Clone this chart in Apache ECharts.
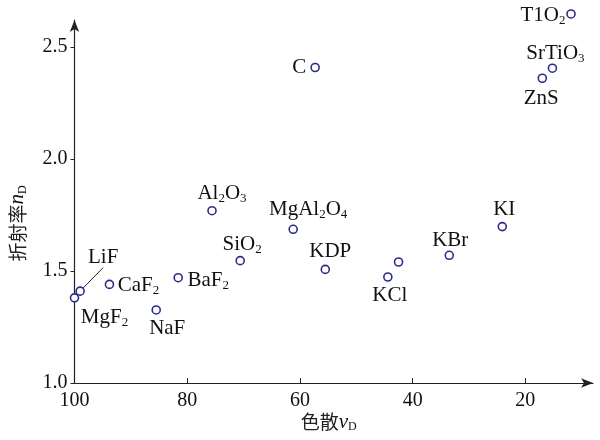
<!DOCTYPE html>
<html>
<head>
<meta charset="utf-8">
<script src="https://cdn.jsdelivr.net/npm/echarts@6/dist/echarts.min.js"></script>
<style>html,body{margin:0;padding:0;background:#fff}#c{width:600px;height:440px}</style>
</head>
<body>
<div id="c"></div>
<script>
// ---- data ----
var materials = ['MgF2','LiF','CaF2','NaF','BaF2','SiO2','Al2O3','MgAl2O4','KDP','KCl','','KBr','KI','C','T1O2','SrTiO3','ZnS'];
var dispersion = [100, 99, 93.8, 85.5, 81.6, 70.6, 75.6, 61.2, 55.5, 44.4, 42.5, 33.5, 24.1, 57.3, 11.9, 15.2, 17.0];
var refractive = [1.38, 1.41, 1.44, 1.326, 1.47, 1.546, 1.769, 1.686, 1.507, 1.473, 1.54, 1.57, 1.698, 2.408, 2.647, 2.405, 2.36];
var xTicks = [100, 80, 60, 40, 20];
var yTicks = [1.0, 1.5, 2.0, 2.5];

// ---- label styling (offsets from point centre) ----
var labelOffset = {
  'LiF':[23,-34],
  'MgF2':[30,20], 'CaF2':[29,1], 'NaF':[11,19], 'BaF2':[30,3], 'SiO2':[2,-16],
  'Al2O3':[10,-17], 'MgAl2O4':[15,-20], 'KDP':[5,-18], 'KCl':[2,18], 'KBr':[1,-15],
  'KI':[2,-17], 'C':[-16,0], 'T1O2':[-28,2], 'SrTiO3':[3,-15], 'ZnS':[-1,20]
};
function richName(n){
  return n.replace(/([A-Za-z]+)(\d*)/g, function(m, a, d){
    return '{n|' + a + '}' + (d ? '{s|' + d + '}' : '');
  }).replace(/^\{n\|T\}\{s\|1\}/, '{n|T1}');
}
var serif = 'Liberation Serif';
var rich = {
  n: {fontFamily: serif, fontSize: 21, color: '#111', lineHeight: 23},
  s: {fontFamily: serif, fontSize: 13, color: '#111', verticalAlign: 'bottom', lineHeight: 8}
};

var data = materials.map(function(m, i){
  var item = {value: [dispersion[i], refractive[i]], name: m};
  if (m && labelOffset[m]) {
    item.label = {show: true, position: 'inside', formatter: richName(m), rich: rich};
    if (m === 'LiF') item.labelLine = {show: true, lineStyle: {color: '#222', width: 1}};
  }
  return item;
});

var chart = echarts.init(document.getElementById('c'), null, {renderer: 'canvas'});
chart.setOption({
  backgroundColor: '#fff',
  animation: false,
  grid: {left: 74.5, right: 7, top: 20, bottom: 57, containLabel: false, outerBoundsMode: 'none'},
  xAxis: {
    type: 'value', inverse: true, min: 8, max: 100,
    splitLine: {show: false},
    axisLine: {onZero: false, lineStyle: {color: '#222', width: 1.2}, symbol: ['none', 'arrow'], symbolSize: [7, 12]},
    axisTick: {inside: true, length: 5, lineStyle: {color: '#222'}, customValues: [80, 60, 40, 20]},
    axisLabel: {customValues: xTicks, fontFamily: serif, fontSize: 20, color: '#111', margin: 8},
    name: '{c|色散}{i|v}{s|D}', nameLocation: 'middle', nameGap: 28, nameMoveOverlap: false,
    nameTextStyle: {padding: [0, 10, 0, 0], rich: {
      c: {fontFamily: 'Noto Sans CJK SC', fontSize: 19, color: '#222', lineHeight: 22},
      i: {fontFamily: serif, fontStyle: 'italic', fontSize: 21, color: '#111', lineHeight: 22},
      s: {fontFamily: serif, fontSize: 12, color: '#111', verticalAlign: 'bottom', lineHeight: 8}
    }}
  },
  yAxis: {
    type: 'value', min: 1.0, max: 2.62,
    splitLine: {show: false},
    axisLine: {onZero: false, lineStyle: {color: '#222', width: 1.2}, symbol: ['none', 'arrow'], symbolSize: [7, 12]},
    axisTick: {inside: false, length: 4, lineStyle: {color: '#222'}, customValues: yTicks},
    axisLabel: {customValues: yTicks, formatter: function(v){ return v.toFixed(1); }, fontFamily: serif, fontSize: 20, color: '#111', margin: 7},
    name: '{c|折射率}{i|n}{s|D}', nameLocation: 'middle', nameRotate: 90, nameGap: 46, nameMoveOverlap: false,
    nameTextStyle: {padding: [0, 44, 0, 0], rich: {
      c: {fontFamily: 'Noto Sans CJK SC', fontSize: 19, color: '#222', lineHeight: 22},
      i: {fontFamily: serif, fontStyle: 'italic', fontSize: 21, color: '#111', lineHeight: 22},
      s: {fontFamily: serif, fontSize: 12, color: '#111', verticalAlign: 'bottom', lineHeight: 8}
    }}
  },
  series: [{
    type: 'scatter',
    clip: false,
    symbol: 'circle',
    symbolSize: 8,
    itemStyle: {color: '#fff', borderColor: '#2b2b8c', borderWidth: 1.6, opacity: 1},
    label: {show: false},
    labelLayout: function(p){
      var o = labelOffset[materials[p.dataIndex]];
      return o ? {dx: o[0], dy: o[1]} : {};
    },
    emphasis: {disabled: true},
    data: data
  }]
});
</script>
</body>
</html>
